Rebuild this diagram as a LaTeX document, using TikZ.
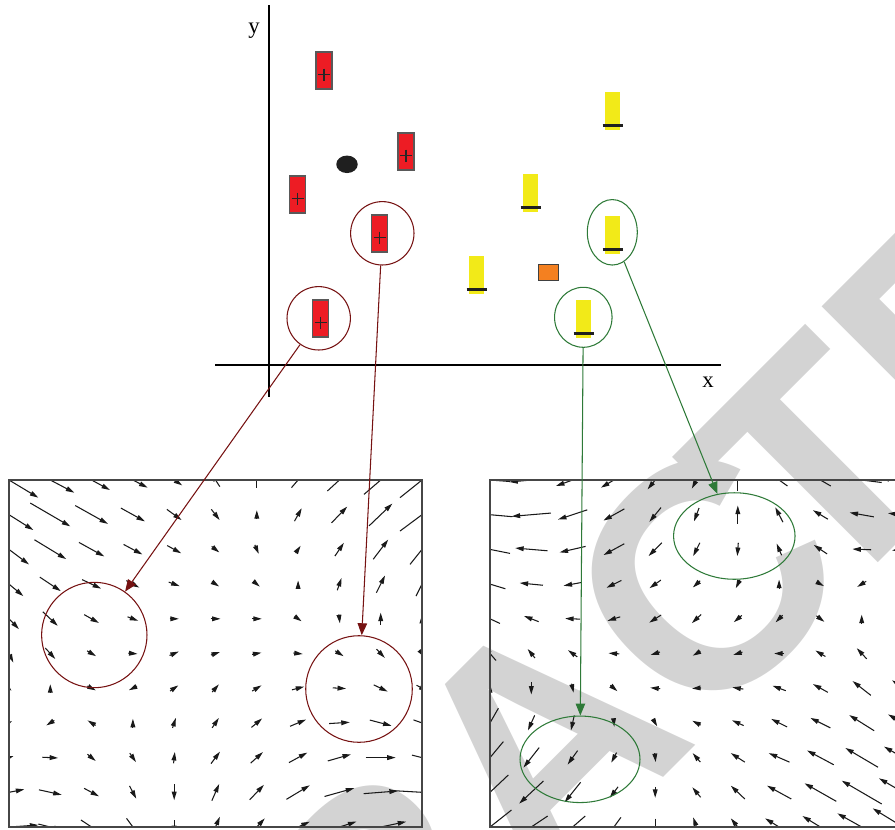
\documentclass[tikz,border=0pt]{standalone}
\usepackage{fontspec}
\setmainfont{Liberation Serif}
\newfontfamily\wmfont{Liberation Sans}
\usetikzlibrary{arrows.meta,calc,shapes.geometric}
\definecolor{posred}{RGB}{237,28,36}
\definecolor{negyellow}{RGB}{242,234,24}
\definecolor{midorange}{RGB}{244,128,32}
\definecolor{linkred}{RGB}{118,18,18}
\definecolor{linkgreen}{RGB}{46,122,56}
\definecolor{wmgray}{RGB}{211,211,211}
\definecolor{framegray}{RGB}{70,70,70}

\begin{document}
\begin{tikzpicture}[x=0.02cm, y=-0.02cm,
    vec/.style={black!90, line width=0.6pt, -{Triangle[length=1.7mm,width=0.95mm]}},
    posbox/.style={draw=black!65, line width=0.6pt, fill=posred, minimum width=0.32cm, minimum height=0.74cm, inner sep=0pt},
    plusmark/.style={black!85, line width=0.7pt},
    negbox/.style={fill=negyellow, minimum width=0.3cm, minimum height=0.76cm, inner sep=0pt},
    negbar/.style={black!88, line width=1.4pt},
    midbox/.style={draw=black!75, line width=0.6pt, fill=midorange, minimum width=0.39cm, minimum height=0.32cm, inner sep=0pt},
    blob/.style={ellipse, fill=black!88, minimum width=0.43cm, minimum height=0.35cm, inner sep=0pt},
    redring/.style={circle, draw=linkred, line width=0.6pt, inner sep=0pt},
    greenring/.style={ellipse, draw=linkgreen, line width=0.6pt, inner sep=0pt},
    redlink/.style={linkred, line width=0.6pt, -{Triangle[length=2.4mm,width=1.9mm]}},
    greenlink/.style={linkgreen, line width=0.6pt, -{Triangle[length=2.4mm,width=1.9mm]}},
    panelframe/.style={draw=framegray, line width=0.8pt},
    axisline/.style={black, line width=0.6pt},
    axlabel/.style={inner sep=0pt, font=\fontsize{13}{13}\selectfont},
    wmark/.style={text=wmgray, inner sep=0pt, rotate=45, font=\wmfont\bfseries\fontsize{182}{182}\selectfont}
]
    \clip (0,0) rectangle (895,829);

    % Watermark
    \foreach \ch/\s in {R/-231,A/0,C/230,T/388,E/592}
        \node[wmark] (wm\ch) at ({542+0.7071*\s},{743-0.7071*\s}) {\ch};

    % Axes
    \draw[axisline] (269,5) -- (269,397);
    \draw[axisline] (215,365) -- (721,365);
    \node[axlabel] (ylab) at (254,31) {y};
    \node[axlabel] (xlab) at (708,382) {x};

    % Positive samples
    \foreach \n/\x/\y in {p1/324/70.5, p2/406/151.5, p3/297.5/194.5, p4/379.5/233.5, p5/320.5/318.5} {
        \node[posbox] (\n) at (\x,\y) {};
        \draw[plusmark] ($(\n.center)+(-6,4.2)$) -- ++(12,0);
        \draw[plusmark] ($(\n.center)+(0,-1.8)$) -- ++(0,12);
    }

    % Negative samples
    \foreach \n/\x/\y in {m1/612.5/111, m2/530.5/193, m3/612.5/235, m4/476.5/275, m5/583.5/319} {
        \node[negbox] (\n) at (\x,\y) {};
        \draw[negbar] ($(\n.center)+(-10,14.5)$) -- ++(20,0);
    }

    % Other samples
    \node[midbox] (q) at (548.5,272.7) {};
    \node[blob] (b) at (347,164.3) {};

    % Selected samples
    \node[redring, minimum size=1.268cm] (ringA) at (382.3,233.3) {};
    \node[redring, minimum size=1.268cm] (ringB) at (318.7,318.3) {};
    \node[greenring, minimum width=1.0cm, minimum height=1.31cm] (ringC) at (612.3,232.3) {};
    \node[greenring, minimum width=1.15cm, minimum height=1.2cm] (ringD) at (583.3,317.3) {};

    % Left field
    \begin{scope}
        \clip (9,480) rectangle (422,827);
        \foreach \row [count=\j from 0] in {
            {58.7/35.3, 48/25.3, 36.7/20, 29.3/15.3, 16/10.7, -8.7/-13.3, 0/-15.3, 13.3/-15.3, 24/-22, 33.3/-28.7, 44/-35.3},
            {48.7/30.7, 40/23.3, 32.7/18.3, 24/13.3, 14.7/10.7, 8.3/10.7, 0/-9, 7.3/-13, 15.7/-16.3, 23.3/-22.3, 44/-32.7},
            {40/30, 31.7/19.3, 25.3/14, 18.7/10, 14/7.7, 7.7/6, 4/9, 5/-7.3, 9/-13.3, 15/-19.7, 24/-30},
            {28.7/24, 21/14, 19/9, 13/7, 11/4, 7.3/4.7, 6/5, 0/-7.3, 4.3/-12.3, 8.7/-17.3, 12/-24},
            {20/20.7, 15/14, 14.7/8.3, 10.7/4, 9.3/0, 10/0, 10/0, 7/5, 1/9, 0/-12.3, 0/-8},
            {8.7/18, 10/11, 9/5.3, 9.3/0.7, 9.3/-4, 9/-3, 9.3/-1.7, 9.3/1, 8.3/5.3, 8.3/8.7, 5/7},
            {5/5, 0/-8, 8.3/4.3, -8/4, 8.3/-5.7, 6.7/-7.7, 9.3/-5.7, 12.3/-3.3, 13.3/0.7, 14/6.7, 11/6},
            {6/-4, -8/5, -8/-5, 0/-8.3, 3.3/-10, 6.7/-10, 10.7/-9, 16/-6.7, 20.7/-1.3, 21.7/5.7, 17/6},
            {9/-3, 15.7/0.7, 8.3/6.7, 6.3/9, 1.3/-11.3, 9/-12, 12.3/-11, 18.3/-10, 23.3/-6.7, 30/0, 20/5},
            {30.7/-6, 22.7/5, 15/8, 6.7/12.7, 0/15.7, 7.3/-16.7, 14.3/-15, 23.3/-14, 29.7/-8.3, 34.3/-2.7, 57/3.3},
            {58.7/-4, 24/6, 21.3/14, 12.7/17.3, 0/14, 8.7/-20.7, 16/-17.3, 23.3/-10.7, 34/-10.7, 51/-10.7, 40/-8}} {
            \foreach \u/\v [count=\k from 0] in \row
                \draw[vec] ({9+41.3*\k-0.5*(\u)},{480+34.7*\j-0.5*(\v)}) -- ++(\u,\v);
        }
    \end{scope}
    \draw[panelframe] (9,480) rectangle (422,827);

    % Right field
    \begin{scope}
        \clip (490,480) rectangle (903,827);
        \foreach \row [count=\j from 0] in {
            {-40/-3, -44/4, -33.3/12, -26/15.3, -15.3/18.7, -9.3/17.3, 0/-22, -16.7/-12, -20.7/-12, -40/-5, -45/-3},
            {-45/-4, -39.3/3.3, -29.3/9.7, -21/11.7, -11.7/14.3, -5/13.3, 0/-18.3, -7.7/-15, -15/-9, -24.3/-4.3, -30/-3},
            {-40/-8, -32.3/-2.7, -26/6, -20.7/11.3, -13.3/13.3, -6.7/13.3, -1/13.3, -5/-11.7, -13.3/-9, -18.7/-0.7, -22/2},
            {-30.7/-9.3, -23.3/-2.3, -18/3.3, -15/7.3, -11.3/8, -7.3/6.7, -4/8.3, 0/-9, 7/4, -9/5.7, -12/4},
            {-20/-9.3, -14.7/-5.7, -15/-0.7, -12.7/4, -12/7.7, -9.3/8.7, -8/6.7, -7/7, 8/6, 0/-8.3, -8/2},
            {-12/-14, -7.3/-9, -9.3/-6.7, -10.7/-0.7, -9.3/3, -7.7/4.3, -9.3/3, -10/0, -10/-6, -10/-10.7, -12/-12},
            {0/-8, 0/12.7, 2/9, 7/6, -10/-1, -9/0.7, -11/-1.7, -13.3/-5, -15/-8.3, -18.3/-14.3, -22/-16},
            {-16.7/29.3, -6.7/15, -3.3/15, 0.7/7.7, 4/7, -8.3/-4.3, -11.7/-5.3, -16/-8, -20/-10, -25/-15.7, -30/-17},
            {-26.7/32, -15.7/20, -10/14, -5.3/10, 1/9, -7.7/-9, -14/-9, -20.7/-9, -26.7/-14.3, -32.7/-19.3, -38/-22},
            {-36.7/34.7, -24.3/22.7, -16/20, -8.3/11, 0/11, -8.3/-10, -14/-13.3, -24.3/-13.3, -31.7/-18, -40/-23.3, -48/-28},
            {-43/34, -32.7/22, -25.3/22, -14/19.3, 0/17, -6.7/-19.3, -14/-17.3, -28/-17.3, -36/-22, -48.7/-27.3, -60.7/-37.3}} {
            \foreach \u/\v [count=\k from 0] in \row
                \draw[vec] ({490+41.3*\k-0.5*(\u)},{480+34.7*\j-0.5*(\v)}) -- ++(\u,\v);
        }
    \end{scope}
    \draw[panelframe] (490,480) rectangle (903,827);

    % Regions in the fields
    \node[redring, minimum size=2.108cm] (holeL) at (94.3,635) {};
    \node[redring, minimum size=2.132cm] (holeR) at (359,689) {};
    \node[greenring, minimum width=2.43cm, minimum height=1.73cm] (sinkT) at (734.3,536) {};
    \node[greenring, minimum width=2.4cm, minimum height=1.73cm] (sinkB) at (580,759.3) {};

    % Links
    \draw[redlink] (ringB) -- (holeL);
    \draw[redlink] (ringA) -- (holeR);
    \draw[greenlink] (ringD) -- (sinkB);
    \draw[greenlink] (ringC) -- (sinkT);
\end{tikzpicture}
\end{document}
